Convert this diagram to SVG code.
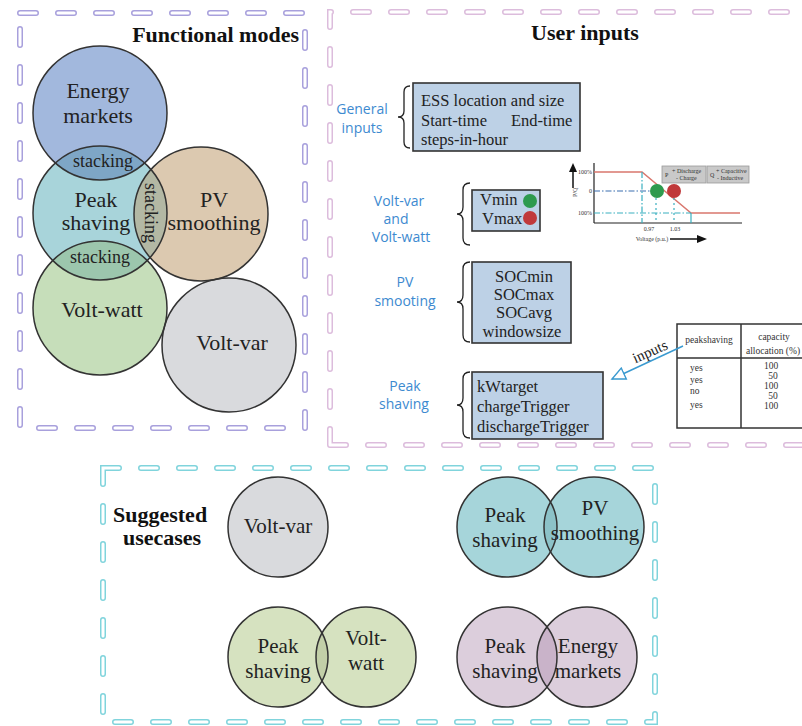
<svg xmlns="http://www.w3.org/2000/svg" width="802" height="726" viewBox="0 0 802 726">
<style>
.serif{font-family:"Liberation Serif","DejaVu Serif",serif;fill:#222}
.b{font-weight:bold;fill:#111}
.lbl{font-size:22px;text-anchor:middle}
.slbl{font-size:21px;text-anchor:middle}
.stk{font-size:18px;text-anchor:middle}
.blue{font-family:"Open Sans","DejaVu Sans",sans-serif;font-size:14px;fill:#3d8ad0;text-anchor:middle}
.box{fill:#bdd1e6;stroke:#333;stroke-width:1.6}
.bt{font-size:16.5px}
.ring{fill:none;stroke:#333;stroke-width:1.5}
.brace{fill:none;stroke:#222;stroke-width:1.3}
.dout{fill:none;stroke-width:6;stroke-linecap:round;stroke-dasharray:16 22}
.din{fill:none;stroke:#fff;stroke-width:3;stroke-linecap:round;stroke-dasharray:16 22}
.tiny{font-family:"Liberation Serif",serif;font-size:6px;fill:#333}
.tbl{font-family:"Liberation Serif",serif;font-size:9.5px;fill:#333}
</style>
<defs>
<clipPath id="cP"><circle cx="100" cy="213" r="67"/></clipPath>
<clipPath id="cS1"><circle cx="507" cy="527" r="50"/></clipPath>
<clipPath id="cS2"><circle cx="278" cy="657" r="50"/></clipPath>
<clipPath id="cS3"><circle cx="507" cy="657" r="50"/></clipPath>
<marker id="openArrow" markerWidth="16" markerHeight="14" refX="14" refY="7" orient="auto" markerUnits="userSpaceOnUse">
<path d="M1,1 L14,7 L1,13 Z" fill="#fff" stroke="#3a9ad0" stroke-width="1.4"/>
</marker>
</defs>
<rect width="802" height="726" fill="#fff"/>

<!-- dashed frames -->
<g id="frames">
<rect x="20" y="13" width="285" height="415" class="dout" stroke="#a8a0dc"/>
<rect x="20" y="13" width="285" height="415" class="din"/>
<path d="M330,445 L330,12 L812,12 M330,445 L812,445" class="dout" stroke="#dcbcdc"/>
<path d="M330,445 L330,12 L812,12 M330,445 L812,445" class="din"/>
<rect x="103" y="468" width="552" height="254" class="dout" stroke="#80d4dc"/>
<rect x="103" y="468" width="552" height="254" class="din"/>
</g>

<!-- Functional modes -->
<g id="functional-modes">
<text x="299" y="42" class="serif b" font-size="22" text-anchor="end">Functional modes</text>
<circle cx="100" cy="113" r="67" fill="#a2b8dd"/>
<circle cx="100" cy="213" r="67" fill="#a8d4da"/>
<circle cx="201" cy="214" r="67" fill="#dcc9b0"/>
<circle cx="100" cy="308" r="67" fill="#c6deba"/>
<circle cx="229" cy="345" r="67" fill="#d9dadd"/>
<circle cx="100" cy="113" r="67" fill="#7ea6c6" clip-path="url(#cP)"/>
<circle cx="201" cy="214" r="67" fill="#b3b8a4" clip-path="url(#cP)"/>
<circle cx="100" cy="308" r="67" fill="#9cc6ad" clip-path="url(#cP)"/>
<circle cx="100" cy="113" r="67" class="ring"/>
<circle cx="100" cy="213" r="67" class="ring"/>
<circle cx="201" cy="214" r="67" class="ring"/>
<circle cx="100" cy="308" r="67" class="ring"/>
<circle cx="229" cy="345" r="67" class="ring"/>
</g>
<g id="energy-markets"><text class="serif lbl" x="98" y="98">Energy</text><text class="serif lbl" x="98" y="123">markets</text></g>
<g id="stacking-1"><text class="serif stk" x="103" y="167">stacking</text></g>
<g id="peak-shaving"><text class="serif lbl" x="96" y="207">Peak</text><text class="serif lbl" x="96" y="230">shaving</text></g>
<g id="pv-smoothing"><text class="serif lbl" x="214" y="207">PV</text><text class="serif lbl" x="214" y="230">smoothing</text></g>
<g id="stacking-2"><text class="serif stk" transform="translate(145,213) rotate(90)" x="0" y="0">stacking</text></g>
<g id="stacking-3"><text class="serif stk" x="100" y="263">stacking</text></g>
<g id="volt-watt"><text class="serif lbl" x="102" y="317">Volt-watt</text></g>
<g id="volt-var"><text class="serif lbl" x="232" y="350">Volt-var</text></g>

<!-- User inputs -->
<g id="user-inputs-title"><text x="585" y="40" class="serif b" font-size="22" text-anchor="middle">User inputs</text></g>

<g id="general-inputs">
<text class="blue" x="362" y="114">General</text>
<text class="blue" x="362" y="133">inputs</text>
<path class="brace" d="M410,86 Q404,86 404,92 L404,111 Q404,117 398,117 Q404,117 404,123 L404,142 Q404,148 410,148"/>
<rect class="box" x="413" y="83" width="167" height="68"/>
<text class="serif bt" x="421" y="106">ESS location and size</text>
<text class="serif bt" x="421" y="126">Start-time</text>
<text class="serif bt" x="511" y="126">End-time</text>
<text class="serif bt" x="421" y="145">steps-in-hour</text>
</g>

<g id="volt-var-volt-watt">
<text class="blue" x="399" y="206">Volt-var</text>
<text class="blue" x="396" y="224">and</text>
<text class="blue" x="401" y="242">Volt-watt</text>
<path class="brace" d="M470,183 Q463,183 463,190 L463,207 Q463,214 457,214 Q463,214 463,221 L463,238 Q463,245 470,245"/>
<rect class="box" x="472" y="190" width="68" height="41"/>
<text class="serif bt" x="480" y="205">Vmin</text>
<text class="serif bt" x="482" y="224">Vmax</text>
<circle cx="530" cy="201" r="7" fill="#2e9a4e"/>
<circle cx="530" cy="218" r="7" fill="#c0393b"/>
</g>

<g id="chart">
<line x1="594" y1="163" x2="594" y2="223" stroke="#222" stroke-width="1.2"/>
<line x1="594" y1="223" x2="742" y2="223" stroke="#222" stroke-width="1.2"/>
<line x1="573" y1="188" x2="573" y2="170" stroke="#111" stroke-width="1.5"/>
<path d="M569,172 L573,163 L577,172 Z" fill="#111"/>
<text class="tiny" transform="translate(577,197) rotate(-90)">P/Q</text>
<text class="tiny" x="592" y="174" text-anchor="end">100%</text>
<text class="tiny" x="592" y="193" text-anchor="end">0</text>
<text class="tiny" x="592" y="215" text-anchor="end">100%</text>
<polyline points="594,172 642,172 691,213 740,213" fill="none" stroke="#d9776e" stroke-width="1.5"/>
<line x1="594" y1="191" x2="650" y2="191" stroke="#3a6fb0" stroke-width="1.2" stroke-dasharray="6 2 1.5 2"/>
<line x1="594" y1="213" x2="691" y2="213" stroke="#3ab0c0" stroke-width="1.2" stroke-dasharray="6 2 1.5 2"/>
<line x1="642" y1="172" x2="642" y2="223" stroke="#3ab0c0" stroke-width="1.2" stroke-dasharray="6 2 1.5 2"/>
<line x1="656" y1="198" x2="656" y2="223" stroke="#3ab0c0" stroke-width="1.2" stroke-dasharray="2 3"/>
<line x1="674" y1="198" x2="674" y2="223" stroke="#3ab0c0" stroke-width="1.2" stroke-dasharray="2 3"/>
<line x1="691" y1="213" x2="691" y2="223" stroke="#3ab0c0" stroke-width="1.2"/>
<circle cx="657" cy="191" r="7" fill="#2e9a4e"/>
<circle cx="674" cy="191" r="7" fill="#c0393b"/>
<rect x="662" y="166" width="44" height="17" fill="#c9c9c9" stroke="#999" stroke-width="0.8"/>
<rect x="707" y="166" width="42" height="17" fill="#c9c9c9" stroke="#999" stroke-width="0.8"/>
<text class="tiny" x="665" y="177">P</text>
<text class="tiny" x="672" y="173" font-size="5">+ Discharge</text>
<text class="tiny" x="676" y="180" font-size="5">- Charge</text>
<text class="tiny" x="710" y="177">Q</text>
<text class="tiny" x="716" y="173" font-size="5">+ Capacitive</text>
<text class="tiny" x="717" y="180" font-size="5">- Inductive</text>
<text class="tiny" x="649" y="231" text-anchor="middle">0.97</text>
<text class="tiny" x="675" y="231" text-anchor="middle">1.03</text>
<text class="tiny" x="652" y="241" text-anchor="middle">Voltage (p.u.)</text>
<line x1="670" y1="239" x2="699" y2="239" stroke="#111" stroke-width="1.5"/>
<path d="M697,235 L707,239 L697,243 Z" fill="#111"/>
</g>

<g id="pv-smooting">
<text class="blue" x="405" y="287">PV</text>
<text class="blue" x="405" y="306">smooting</text>
<path class="brace" d="M470,262 Q463,262 463,269 L463,295 Q463,302 457,302 Q463,302 463,309 L463,335 Q463,342 470,342"/>
<rect class="box" x="472" y="262" width="99" height="81"/>
<text class="serif bt" x="524" y="282" text-anchor="middle">SOCmin</text>
<text class="serif bt" x="524" y="300" text-anchor="middle">SOCmax</text>
<text class="serif bt" x="524" y="318" text-anchor="middle">SOCavg</text>
<text class="serif bt" x="522" y="337" text-anchor="middle">windowsize</text>
</g>

<g id="peak-shaving-inputs">
<text class="blue" x="405" y="391">Peak</text>
<text class="blue" x="404" y="409">shaving</text>
<path class="brace" d="M470,372 Q463,372 463,379 L463,398 Q463,405 457,405 Q463,405 463,412 L463,431 Q463,438 470,438"/>
<rect class="box" x="472" y="372" width="131" height="67"/>
<text class="serif bt" x="477" y="392">kWtarget</text>
<text class="serif bt" x="477" y="412">chargeTrigger</text>
<text class="serif bt" x="477" y="432">dischargeTrigger</text>
</g>

<g id="table">
<rect x="677" y="324" width="140" height="104" fill="#fff" stroke="#333" stroke-width="1.5"/>
<line x1="741" y1="324" x2="741" y2="428" stroke="#333" stroke-width="1.5"/>
<line x1="677" y1="358" x2="817" y2="358" stroke="#333" stroke-width="1.5"/>
<text class="tbl" x="709" y="343" text-anchor="middle">peakshaving</text>
<text class="tbl" x="774" y="340" text-anchor="middle">capacity</text>
<text class="tbl" x="746" y="354">allocation (%)</text>
<text class="tbl" x="690" y="371">yes</text>
<text class="tbl" x="690" y="383">yes</text>
<text class="tbl" x="690" y="394">no</text>
<text class="tbl" x="690" y="408">yes</text>
<text class="tbl" x="771" y="369" text-anchor="middle">100</text>
<text class="tbl" x="773" y="379" text-anchor="middle">50</text>
<text class="tbl" x="771" y="389" text-anchor="middle">100</text>
<text class="tbl" x="773" y="399" text-anchor="middle">50</text>
<text class="tbl" x="771" y="409" text-anchor="middle">100</text>
</g>

<g id="connectors">
<line x1="683" y1="346" x2="612" y2="379" stroke="#3a9ad0" stroke-width="1.5" marker-end="url(#openArrow)"/>
<text class="serif" font-size="15" text-anchor="middle" transform="translate(652,356) rotate(-24)">inputs</text>
</g>

<!-- Suggested usecases -->
<g id="suggested-title">
<text class="serif b" font-size="22" x="113" y="522">Suggested</text>
<text class="serif b" font-size="22" x="162" y="545" text-anchor="middle">usecases</text>
</g>
<g id="uc-volt-var">
<circle cx="278" cy="527" r="50" fill="#d9dadd" stroke="#333" stroke-width="1.5"/>
<text class="serif slbl" x="278" y="533">Volt-var</text>
</g>
<g id="uc-peak-pv">
<circle cx="507" cy="527" r="50" fill="#a6d5da"/>
<circle cx="594" cy="527" r="50" fill="#a6d5da"/>
<circle cx="594" cy="527" r="50" fill="#8cc2c8" clip-path="url(#cS1)"/>
<circle cx="507" cy="527" r="50" class="ring"/>
<circle cx="594" cy="527" r="50" class="ring"/>
<text class="serif slbl" x="505" y="522">Peak</text>
<text class="serif slbl" x="505" y="547">shaving</text>
<text class="serif slbl" x="595" y="515">PV</text>
<text class="serif slbl" x="595" y="540">smoothing</text>
</g>
<g id="uc-peak-voltwatt">
<circle cx="278" cy="657" r="50" fill="#d6e2c0"/>
<circle cx="366" cy="657" r="50" fill="#d6e2c0"/>
<circle cx="366" cy="657" r="50" fill="#c2cfa8" clip-path="url(#cS2)"/>
<circle cx="278" cy="657" r="50" class="ring"/>
<circle cx="366" cy="657" r="50" class="ring"/>
<text class="serif slbl" x="278" y="653">Peak</text>
<text class="serif slbl" x="278" y="678">shaving</text>
<text class="serif slbl" x="366" y="645">Volt-</text>
<text class="serif slbl" x="366" y="670">watt</text>
</g>
<g id="uc-peak-energy">
<circle cx="507" cy="657" r="50" fill="#dccedc"/>
<circle cx="587" cy="657" r="50" fill="#dccedc"/>
<circle cx="587" cy="657" r="50" fill="#c9b3c9" clip-path="url(#cS3)"/>
<circle cx="507" cy="657" r="50" class="ring"/>
<circle cx="587" cy="657" r="50" class="ring"/>
<text class="serif slbl" x="505" y="653">Peak</text>
<text class="serif slbl" x="505" y="678">shaving</text>
<text class="serif slbl" x="588" y="653">Energy</text>
<text class="serif slbl" x="588" y="678">markets</text>
</g>
</svg>
